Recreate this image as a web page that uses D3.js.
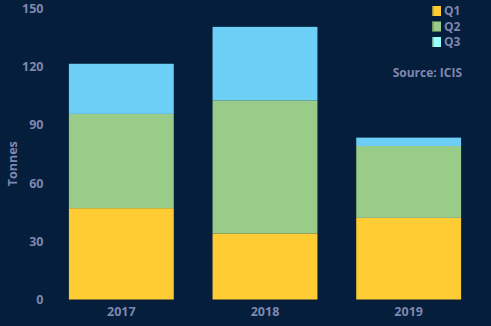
<!DOCTYPE html>
<html><head><meta charset="utf-8">
<script src="https://cdn.jsdelivr.net/npm/d3@7"></script>
<style>
html,body{margin:0;padding:0;background:#041e3b;}
svg{display:block;}
text{font-family:"Open Sans",sans-serif;font-weight:bold;fill:#7f87ae;}
</style></head><body>
<svg id="c" width="491" height="326"></svg>
<script>
const years = ["2017","2018","2019"];
const seriesNames = ["Q1","Q2","Q3"];
const q1 = [47, 34, 42];
const q2 = [48.5, 68.5, 37];
const q3 = [25.8, 37.8, 4.3];
const yTicks = [0,30,60,90,120,150];
const colors = ["#ffcc33","#99cc88","#6dcff5"];
const legendColors = ["#ffcc33","#99cc88","#99ffff"];

const svg = d3.select("#c");
const W = 491, H = 326;
const m = {left:49.5, right:10.5, top:8, bottom:26.5};

const rows = years.map((y,i)=>({year:y, Q1:q1[i], Q2:q2[i], Q3:q3[i]}));
const stack = d3.stack().keys(seriesNames)(rows);

const x = d3.scaleBand().domain(years).range([m.left, W-m.right]).paddingInner(0.27).paddingOuter(0.135);
const y = d3.scaleLinear().domain([0,150]).range([H-m.bottom, m.top]);

svg.append("g").selectAll("g").data(stack).join("g")
  .attr("fill",(d,i)=>colors[i])
  .selectAll("rect").data(d=>d).join("rect")
  .attr("x",d=>x(d.data.year))
  .attr("width",x.bandwidth())
  .attr("y",d=>y(d[1]))
  .attr("height",d=>y(d[0])-y(d[1]));

// y axis
const ya = svg.append("g").attr("transform",`translate(${m.left-6},0)`)
  .call(d3.axisLeft(y).tickValues(yTicks).tickSize(0).tickPadding(0));
ya.select(".domain").remove();
ya.selectAll("text").attr("font-size",12.5).attr("dy","0.35em").style("font-family","'Open Sans',sans-serif");

// x axis
const xa = svg.append("g").attr("transform",`translate(0,${H-m.bottom})`)
  .call(d3.axisBottom(x).tickSize(0).tickPadding(8));
xa.select(".domain").remove();
xa.selectAll("text").attr("font-size",12.5).style("font-family","'Open Sans',sans-serif");

svg.append("text").attr("transform",`translate(17,${(y(0)+y(150))/2+10}) rotate(-90)`)
  .attr("text-anchor","middle").attr("font-size",12.5).text("Tonnes");

// legend
const lg = svg.append("g").attr("transform","translate(432,6)");
seriesNames.forEach((s,i)=>{
  const g = lg.append("g").attr("transform",`translate(0,${i*15.5})`);
  g.append("rect").attr("width",9).attr("height",10).attr("fill",legendColors[i]);
  g.append("rect").attr("width",1.5).attr("height",10).attr("fill","#55704a").attr("opacity",0.6);
  g.append("text").attr("x",12).attr("y",5).attr("dy","0.35em").attr("font-size",12).text(s);
});

svg.append("text").attr("x",462).attr("y",73).attr("dy","0.35em").attr("text-anchor","end")
  .attr("font-size",12).text("Source: ICIS");
</script>
</body></html>
